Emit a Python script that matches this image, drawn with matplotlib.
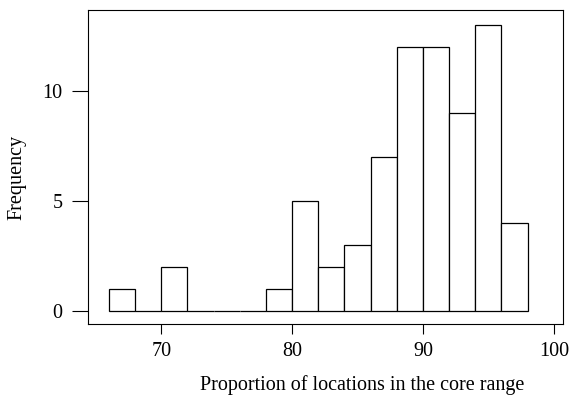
import matplotlib
matplotlib.use("Agg")
import matplotlib.pyplot as plt

# bin edges and counts
bin_edges = [66, 68, 70, 72, 74, 76, 78, 80, 82, 84, 86, 88, 90, 92, 94, 96, 98]
counts = [1, 0, 2, 0, 0, 0, 1, 5, 2, 3, 7, 12, 12, 9, 13, 4]
x_ticks = [70, 80, 90, 100]
y_ticks = [0, 5, 10]

plt.rcParams['font.family'] = ['Liberation Serif', 'DejaVu Serif']

fig = plt.figure(figsize=(5.71, 3.96), dpi=100)
ax = fig.add_axes([88 / 571, 1 - 324.3 / 396, (563 - 88) / 571, (324.3 - 10) / 396])

ax.hist(bin_edges[:-1], bins=bin_edges, weights=counts,
        facecolor='white', edgecolor='black', linewidth=0.9)

ax.set_xlim(64.4, 100.7)
ax.set_ylim(-0.62, 13.67)
ax.set_xticks(x_ticks)
ax.set_yticks(y_ticks)
ax.tick_params(axis='x', direction='out', length=7.5, width=0.8, pad=5.5, labelsize=14.5)
ax.tick_params(axis='y', direction='out', length=11.5, width=0.8, pad=7, labelsize=14.5)
for s in ax.spines.values():
    s.set_linewidth(0.8)

# axis titles, placed like the R original
fig.text(362 / 571, 1 - 385 / 396, 'Proportion of locations in the core range',
         fontsize=14.5, ha='center', va='center')
fig.text(17 / 571, 1 - 177 / 396, 'Frequency', fontsize=14.5,
         rotation=90, ha='center', va='center')

fig.savefig('out.png', dpi=100)
